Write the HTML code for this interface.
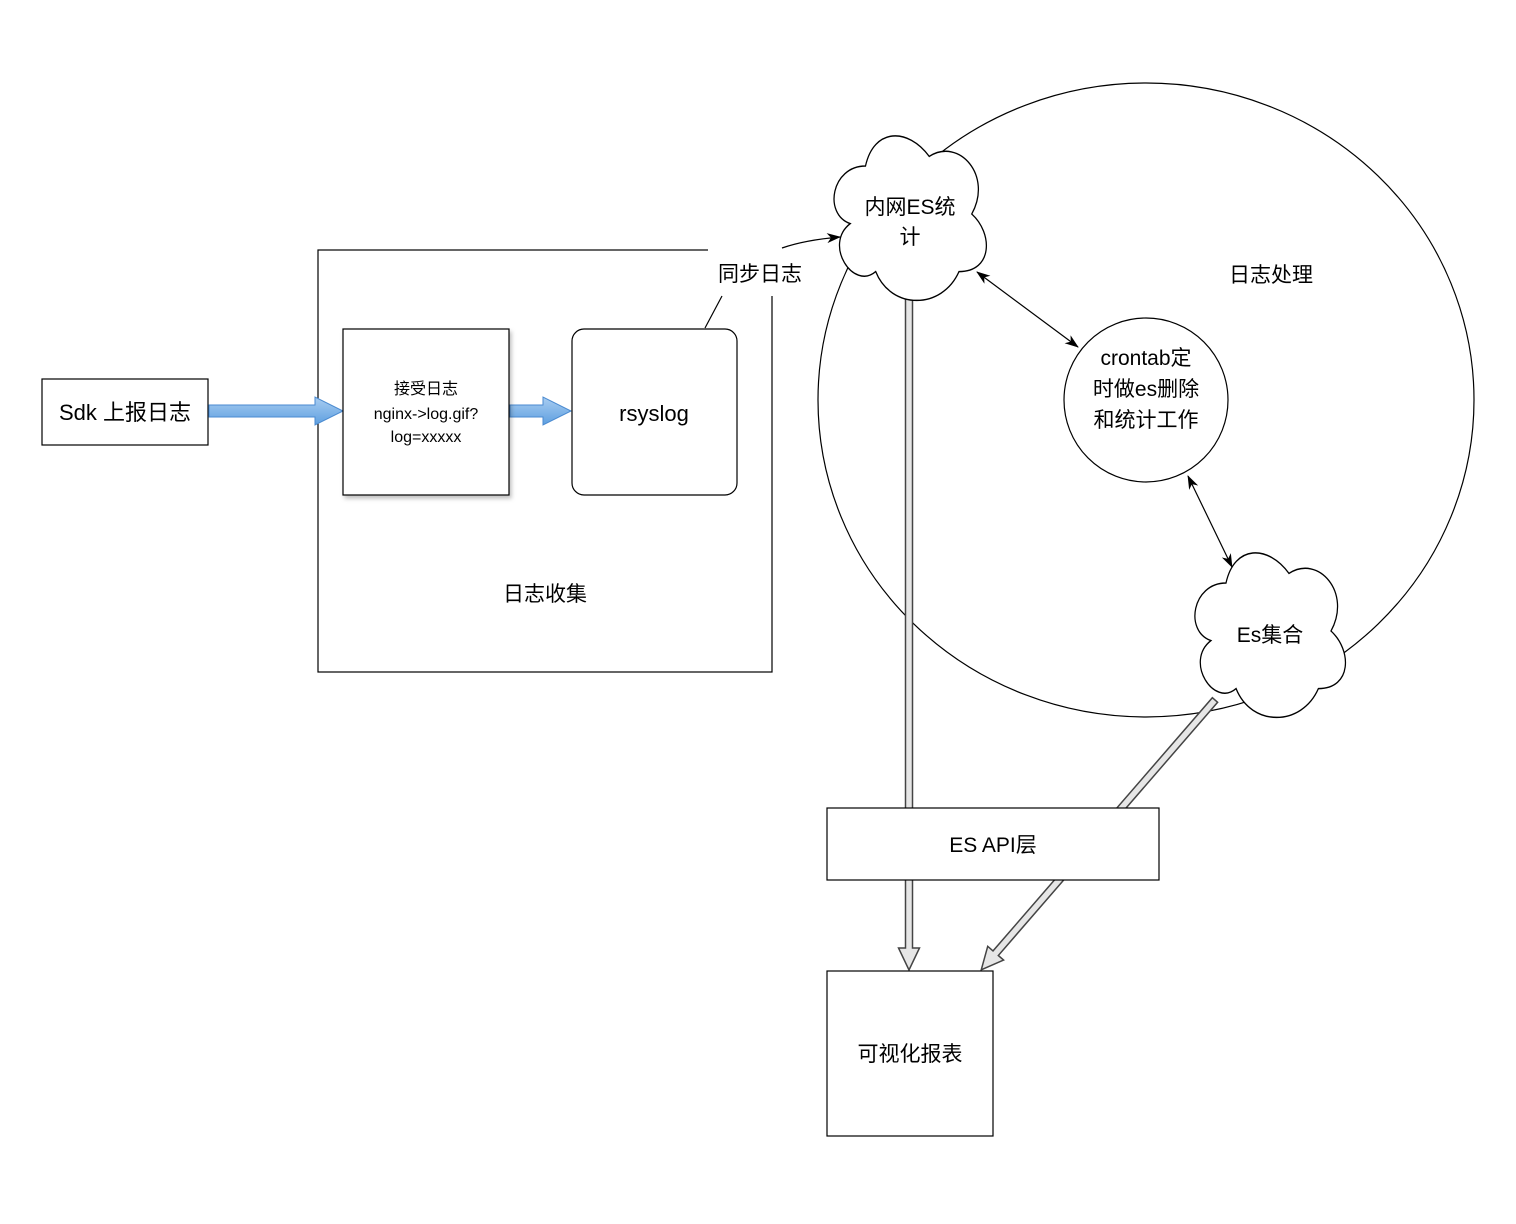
<!DOCTYPE html>
<html><head><meta charset="utf-8"><style>
html,body{margin:0;padding:0;background:#fff}
svg{display:block}
text{font-family:"Liberation Sans","Noto Sans CJK SC",sans-serif;fill:#000}
</style></head><body>
<svg width="1516" height="1224" viewBox="0 0 1516 1224" xmlns="http://www.w3.org/2000/svg">
<defs>
<linearGradient id="bl" x1="0" y1="0" x2="0" y2="1">
<stop offset="0" stop-color="#a9cdf1"/><stop offset="1" stop-color="#5d9fe0"/>
</linearGradient>
<marker id="ah" markerWidth="14" markerHeight="10" refX="13" refY="5" orient="auto-start-reverse" markerUnits="userSpaceOnUse">
<path d="M0,0 L14,5 L0,10 L4,5 Z" fill="#000"/>
</marker>
<filter id="sh" x="-10%" y="-10%" width="130%" height="130%"><feDropShadow dx="2" dy="3" stdDeviation="2" flood-color="#000" flood-opacity="0.25"/></filter>
</defs>

<ellipse cx="1146" cy="400" rx="328" ry="317" fill="none" stroke="#000" stroke-width="1.2"/>
<text x="1271" y="282" font-size="21" text-anchor="middle">日志处理</text>

<rect x="318" y="250" width="454" height="422" fill="none" stroke="#000" stroke-width="1.2"/>
<text x="545" y="601" font-size="21" text-anchor="middle">日志收集</text>

<rect x="708" y="246" width="66" height="50" fill="#fff"/>
<text x="760" y="281" font-size="21" text-anchor="middle">同步日志</text>
<line x1="705" y1="328" x2="722" y2="296" stroke="#000" stroke-width="1.2"/>
<path d="M782,248 Q805,240 840,237" fill="none" stroke="#000" stroke-width="1.2" marker-end="url(#ah)"/>

<g transform="translate(909,298) rotate(90)">
<polygon points="0,-3.5 650,-3.5 650,-10.5 672,0 650,10.5 650,3.5 0,3.5" fill="#e6e6e6" stroke="#444" stroke-width="1.5"/>
</g>
<g transform="translate(1215,700) rotate(130.9)">
<polygon points="0,-3.5 335,-3.5 335,-10.5 357,0 335,10.5 335,3.5 0,3.5" fill="#e6e6e6" stroke="#444" stroke-width="1.5"/>
</g>

<rect x="42" y="379" width="166" height="66" fill="#fff" stroke="#000" stroke-width="1.2"/>
<text x="125" y="420" font-size="22" text-anchor="middle">Sdk 上报日志</text>

<polygon points="209,405 315,405 315,397 343,411 315,425 315,417 209,417" fill="url(#bl)" stroke="#4a8ad0" stroke-width="1"/>
<polygon points="510,405 543,405 543,397 571,411 543,425 543,417 510,417" fill="url(#bl)" stroke="#4a8ad0" stroke-width="1"/>

<rect x="343" y="329" width="166" height="166" fill="#fff" stroke="#000" stroke-width="1.2" filter="url(#sh)"/>
<text x="426" y="394" font-size="16" text-anchor="middle">接受日志</text>
<text x="426" y="419" font-size="16" text-anchor="middle">nginx-&gt;log.gif?</text>
<text x="426" y="442" font-size="16" text-anchor="middle">log=xxxxx</text>

<rect x="572" y="329" width="165" height="166" rx="12" fill="#fff" stroke="#000" stroke-width="1.2"/>
<text x="654" y="421" font-size="22" text-anchor="middle">rsyslog</text>

<circle cx="1146" cy="400" r="82" fill="#fff" stroke="#000" stroke-width="1.2"/>
<text x="1146" y="365" font-size="21" text-anchor="middle">crontab定</text>
<text x="1146" y="396" font-size="21" text-anchor="middle">时做es删除</text>
<text x="1146" y="427" font-size="21" text-anchor="middle">和统计工作</text>

<line x1="977" y1="272" x2="1078" y2="347" stroke="#000" stroke-width="1.2" marker-start="url(#ah)" marker-end="url(#ah)"/>
<line x1="1188" y1="476" x2="1232" y2="567" stroke="#000" stroke-width="1.2" marker-start="url(#ah)" marker-end="url(#ah)"/>

<g transform="translate(823,118) scale(170,192)">
<path d="M0.25,0.25 C0.05,0.25 0,0.5 0.16,0.55 C0,0.66 0.18,0.9 0.31,0.8 C0.4,1 0.7,1 0.8,0.8 C1,0.8 1,0.6 0.875,0.5 C1,0.3 0.8,0.1 0.625,0.2 C0.5,0.05 0.3,0.05 0.25,0.25 Z" fill="#fff" stroke="#000" stroke-width="0.0075"/>
</g>
<text x="910" y="214" font-size="21" text-anchor="middle">内网ES统</text>
<text x="910" y="244" font-size="21" text-anchor="middle">计</text>

<g transform="translate(1184,535) scale(168,192)">
<path d="M0.25,0.25 C0.05,0.25 0,0.5 0.16,0.55 C0,0.66 0.18,0.9 0.31,0.8 C0.4,1 0.7,1 0.8,0.8 C1,0.8 1,0.6 0.875,0.5 C1,0.3 0.8,0.1 0.625,0.2 C0.5,0.05 0.3,0.05 0.25,0.25 Z" fill="#fff" stroke="#000" stroke-width="0.0075"/>
</g>
<text x="1270" y="642" font-size="21" text-anchor="middle">Es集合</text>

<rect x="827" y="808" width="332" height="72" fill="#fff" stroke="#000" stroke-width="1.2"/>
<text x="993" y="852" font-size="21" text-anchor="middle">ES API层</text>

<rect x="827" y="971" width="166" height="165" fill="#fff" stroke="#000" stroke-width="1.2"/>
<text x="910" y="1061" font-size="21" text-anchor="middle">可视化报表</text>
</svg>
</body></html>
